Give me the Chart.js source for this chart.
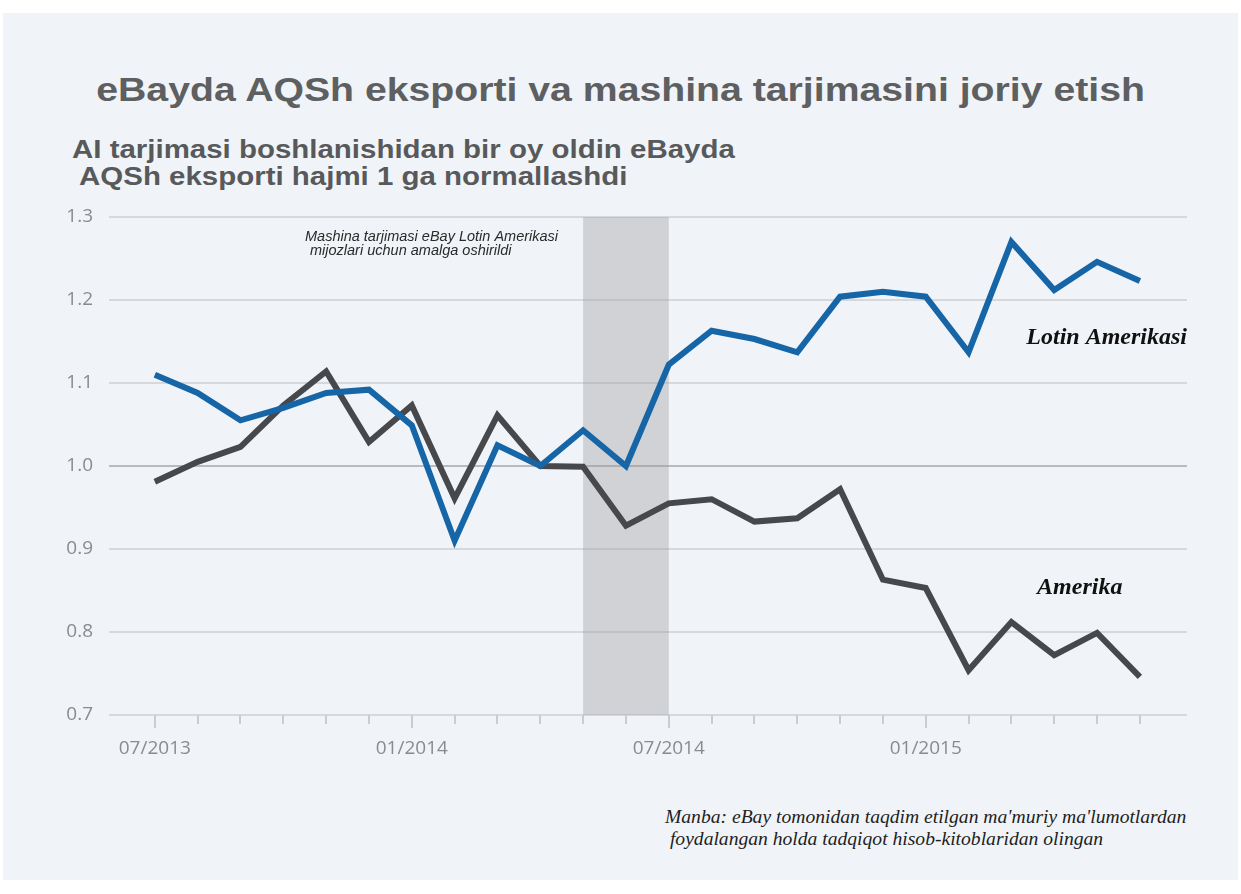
<!DOCTYPE html>
<html lang="uz">

<head>
    <meta charset="UTF-8">
    <title>eBay eksport</title>
    <script src="https://cdn.jsdelivr.net/npm/chart.js@4.4.1/dist/chart.umd.min.js"></script>
    <style>
        body { margin: 0; background: #ffffff; }
        #panel {
            position: absolute; left: 3px; top: 13px; width: 1235px; height: 867px;
            background: #f0f4f8;
        }
        #title {
            position: absolute; left: 0; top: 70px; width: 1241px; text-align: center;
            font: bold 34px "Liberation Sans", Arial, sans-serif; color: #5e5f61;
            transform: scaleX(1.153); transform-origin: 620px 0;
        }
        #subtitle {
            position: absolute; left: 72px; top: 136px; white-space: pre;
            font: bold 25px/27px "Liberation Sans", Arial, sans-serif; color: #58595b;
            transform: scaleX(1.178); transform-origin: 0 0;
        }
        #source {
            position: absolute; left: 665px; top: 806px; white-space: pre;
            font: italic 19.6px/22px "Liberation Serif", "Times New Roman", serif; color: #1e1e1e;
        }
        canvas { position: absolute; left: 0; top: 0; }
    </style>
</head>

<body>
    <div id="panel"></div>
    <div id="title">eBayda AQSh eksporti va mashina tarjimasini joriy etish</div>
    <div id="subtitle">AI tarjimasi boshlanishidan bir oy oldin eBayda
 AQSh eksporti hajmi 1 ga normallashdi</div>
    <div id="source">Manba: eBay tomonidan taqdim etilgan ma'muriy ma'lumotlardan
 foydalangan holda tadqiqot hisob-kitoblaridan olingan</div>
    <canvas id="chart" width="1241" height="894"></canvas>
    <script>
        // months from 07/2013 to 06/2015
        var months = ['07/2013', '08/2013', '09/2013', '10/2013', '11/2013', '12/2013',
            '01/2014', '02/2014', '03/2014', '04/2014', '05/2014', '06/2014',
            '07/2014', '08/2014', '09/2014', '10/2014', '11/2014', '12/2014',
            '01/2015', '02/2015', '03/2015', '04/2015', '05/2015', '06/2015'];
        var tickLabels = ['07/2013', '01/2014', '07/2014', '01/2015'];

        var latam = [1.110, 1.088, 1.055, 1.070, 1.088, 1.092, 1.049, 0.910, 1.025, 1.000, 1.043, 1.000,
            1.122, 1.163, 1.153, 1.137, 1.204, 1.210, 1.204, 1.137, 1.270, 1.212, 1.246, 1.223];
        var usa = [0.981, 1.005, 1.023, 1.073, 1.114, 1.029, 1.073, 0.961, 1.061, 1.000, 0.999, 0.928,
            0.955, 0.960, 0.933, 0.937, 0.972, 0.863, 0.853, 0.754, 0.812, 0.772, 0.799, 0.746];

        var shadeFrom = '05/2014';
        var shadeTo = '07/2014';
        var yTicks = [0.7, 0.8, 0.9, 1.0, 1.1, 1.2, 1.3];

        function points(arr) {
            return arr.map(function (v, i) { return { x: i, y: v }; });
        }

        // grey band + month tick marks + notes
        const extras = {
            id: 'extras',
            beforeDatasetsDraw(chart) {
                const c = chart.ctx, a = chart.chartArea, xs = chart.scales.x;
                const x1 = xs.getPixelForValue(months.indexOf(shadeFrom));
                const x2 = xs.getPixelForValue(months.indexOf(shadeTo));
                c.save();
                c.fillStyle = 'rgba(158,156,158,0.38)';
                c.fillRect(x1, a.top, x2 - x1, a.bottom - a.top);
                c.restore();
            },
            afterDraw(chart) {
                const c = chart.ctx, a = chart.chartArea, xs = chart.scales.x, ys = chart.scales.y;
                c.save();
                c.strokeStyle = '#c9ccd0';
                c.lineWidth = 2;
                months.forEach(function (m, i) {
                    const x = Math.round(xs.getPixelForValue(i));
                    const len = tickLabels.includes(m) ? 13 : 9;
                    c.beginPath();
                    c.moveTo(x, a.bottom);
                    c.lineTo(x, a.bottom + len);
                    c.stroke();
                });
                c.fillStyle = '#2a2a2a';
                c.font = 'italic 14.5px "Liberation Sans", Arial, sans-serif';
                c.textBaseline = 'alphabetic';
                c.fillText('Mashina tarjimasi eBay Lotin Amerikasi', a.left + 196, a.top + 24);
                c.fillText('mijozlari uchun amalga oshirildi', a.left + 201, a.top + 38);

                c.fillStyle = '#111111';
                c.font = 'bold italic 24px "Liberation Serif", "Times New Roman", serif';
                c.textBaseline = 'middle';
                c.textAlign = 'right';
                c.fillText('Lotin Amerikasi', a.right, ys.getPixelForValue(1.155));
                c.textAlign = 'left';
                c.fillText('Amerika', xs.getPixelForValue(20.6), ys.getPixelForValue(0.853));
                c.restore();
            }
        };

        const ctx = document.getElementById('chart').getContext('2d');
        const myChart = new Chart(ctx, {
            type: 'line',
            data: {
                datasets: [{
                    label: 'Lotin Amerikasi',
                    data: points(latam),
                    borderColor: '#1565a7',
                    borderWidth: 6,
                    pointRadius: 0,
                    tension: 0,
                    fill: false
                }, {
                    label: 'Amerika',
                    data: points(usa),
                    borderColor: '#47484b',
                    borderWidth: 6,
                    pointRadius: 0,
                    tension: 0,
                    fill: false
                }]
            },
            options: {
                responsive: false,
                animation: false,
                layout: { padding: { left: 40, right: 54, top: 217, bottom: 119 } },
                plugins: {
                    legend: { display: false },
                    tooltip: { enabled: false }
                },
                scales: {
                    x: {
                        type: 'linear',
                        min: -1.07,
                        max: 24.1,
                        border: { display: false },
                        grid: { display: false, drawTicks: false },
                        afterFit: function (s) { s.height = 60; },
                        ticks: {
                            stepSize: 1,
                            autoSkip: false,
                            includeBounds: false,
                            maxRotation: 0,
                            padding: 22,
                            color: '#8a8b8d',
                            font: { family: '"Open Sans", sans-serif', size: 19 },
                            callback: function (v) {
                                const m = months[v];
                                return tickLabels.includes(m) ? m : '';
                            }
                        }
                    },
                    y: {
                        min: 0.7,
                        max: 1.3,
                        border: { display: false },
                        afterFit: function (s) { s.width = 69; },
                        afterBuildTicks: function (s) {
                            s.ticks = yTicks.map(function (v) { return { value: v }; });
                        },
                        grid: {
                            drawTicks: false,
                            lineWidth: 2,
                            color: function (c) {
                                return c.tick && Math.abs(c.tick.value - 1) < 1e-6 ? '#b9babc' : '#d6d8dc';
                            }
                        },
                        ticks: {
                            padding: 16,
                            color: '#8a8b8d',
                            font: { family: '"Open Sans", sans-serif', size: 19 },
                            callback: function (v) { return v.toFixed(1); }
                        }
                    }
                }
            },
            plugins: [extras]
        });
    </script>
</body>

</html>
